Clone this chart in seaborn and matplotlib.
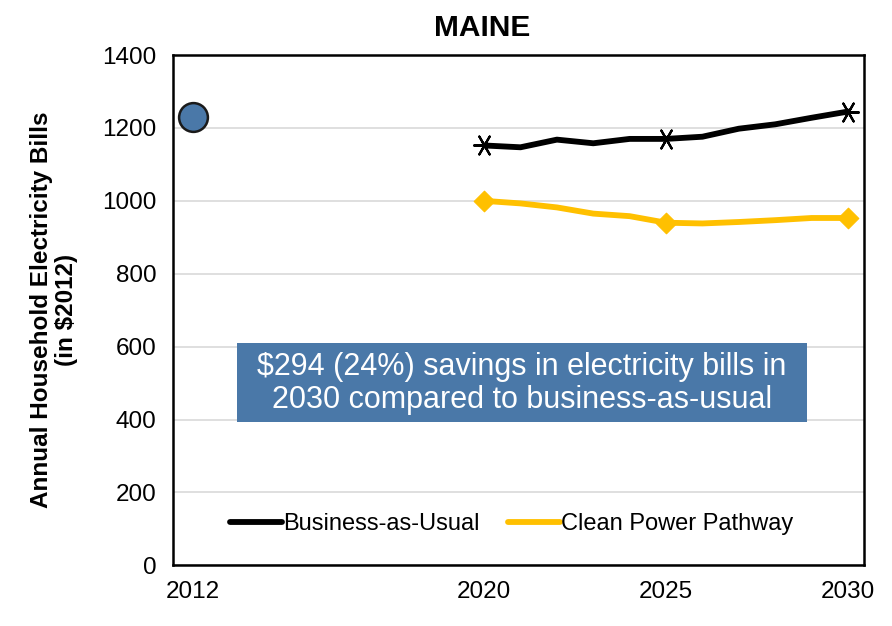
import numpy as np
import pandas as pd
import matplotlib
matplotlib.use("Agg")
import matplotlib.pyplot as plt
import seaborn as sns
from matplotlib.patches import Rectangle

OUT_PATH = "out.png"

YEARS      = [2020, 2021, 2022, 2023, 2024, 2025, 2026, 2027, 2028, 2029, 2030]
BAU        = [1152, 1147, 1168, 1158, 1170, 1170, 1176, 1198, 1210, 1228, 1245]
CPP        = [1000, 993, 982, 965, 958, 940, 938, 942, 947, 953, 953]
MARK_YEARS = [2020, 2025, 2030]
BASE_YEAR  = [2012]
BASE_BILL  = [1230]
XTICKS     = [2012, 2020, 2025, 2030]
YTICKS     = [0, 200, 400, 600, 800, 1000, 1200, 1400]

BLACK  = "#000000"
YELLOW = "#FFC000"
BLUE   = "#4A78A8"

sns.set_style("white")
plt.rcParams["font.family"] = ["Liberation Sans", "DejaVu Sans"]
plt.rcParams["text.color"] = BLACK
plt.rcParams["axes.labelcolor"] = BLACK
plt.rcParams["xtick.color"] = BLACK
plt.rcParams["ytick.color"] = BLACK

df = pd.DataFrame({"year": YEARS, "Business-as-Usual": BAU, "Clean Power Pathway": CPP})
marks = df[df["year"].isin(MARK_YEARS)]

fig = plt.figure(figsize=(8.92, 6.26), dpi=100)
ax = fig.add_axes([0.194, 0.097, 0.775, 0.815])

sns.lineplot(data=df, x="year", y="Business-as-Usual", color=BLACK, lw=4.2,
             ax=ax, label="Business-as-Usual")
sns.lineplot(data=df, x="year", y="Clean Power Pathway", color=YELLOW, lw=4.2,
             ax=ax, label="Clean Power Pathway")
sns.scatterplot(data=marks, x="year", y="Business-as-Usual", marker=(6, 2, 30),
                s=220, color=BLACK, linewidth=1.6, ax=ax, legend=False, zorder=4)
sns.scatterplot(data=marks, x="year", y="Clean Power Pathway", marker="D",
                s=110, color=YELLOW, edgecolor=YELLOW, ax=ax, legend=False, zorder=4)
sns.scatterplot(x=BASE_YEAR, y=BASE_BILL, s=430, color=BLUE, edgecolor="#1a1a1a",
                linewidth=1.8, ax=ax, legend=False, zorder=5)

ax.set_xlim(2011.45, 2030.45)
ax.set_ylim(0, 1400)
ax.set_xticks(XTICKS)
ax.set_yticks(YTICKS)
ax.yaxis.grid(True, color="#d9d9d9", lw=1.2)
ax.set_axisbelow(True)
for s in ax.spines.values():
    s.set_color(BLACK)
    s.set_linewidth(1.8)
ax.tick_params(axis="y", length=0, labelsize=17.5, pad=12)
ax.tick_params(axis="x", length=0, labelsize=17.5, pad=11)
ax.set_xlabel("")
ax.set_ylabel("Annual Household Electricity Bills\n(in $2012)", fontsize=17.5,
              fontweight="bold", labelpad=17, linespacing=1.15)

leg = ax.legend(loc="center", bbox_to_anchor=(0.49, 0.08), ncol=2, frameon=False,
                handlelength=2.2, handletextpad=0.05, columnspacing=1.2,
                prop={"size": 17})

fig.text(0.541, 0.955, "MAINE", ha="center", va="center", fontsize=21.5, fontweight="bold")

ax.add_patch(Rectangle((0.0926, 0.280), 0.825, 0.155, transform=ax.transAxes,
                       facecolor=BLUE, edgecolor="none", zorder=3))
ax.text(0.505, 0.357, "$294 (24%) savings in electricity bills in\n2030 compared to business-as-usual",
        transform=ax.transAxes, ha="center", va="center", color="white", fontsize=22,
        linespacing=1.12, zorder=4)

fig.savefig(OUT_PATH, dpi=100)
plt.close(fig)
